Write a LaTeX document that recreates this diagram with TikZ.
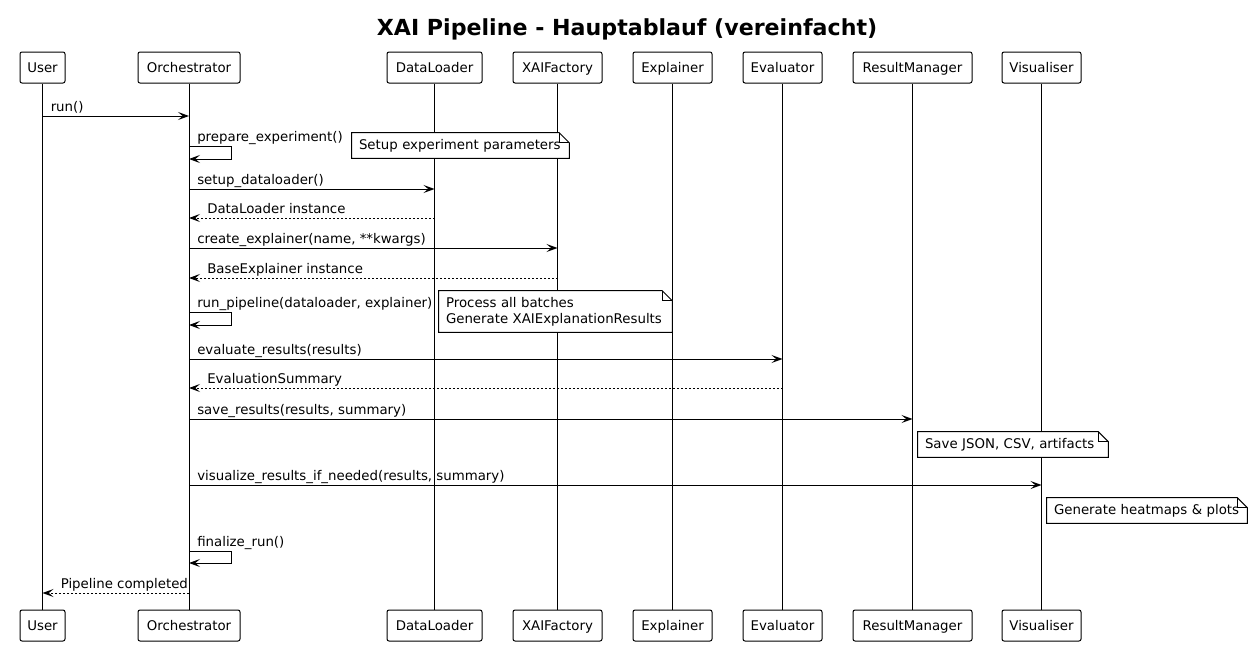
\documentclass[tikz,border=0pt]{standalone}
\usepackage{fontspec}
\setmainfont{DejaVu Sans}
\usetikzlibrary{arrows.meta,calc}
\pgfdeclarelayer{bg}
\pgfdeclarelayer{lines}
\pgfdeclarelayer{notes}
\pgfsetlayers{bg,lines,notes,main}
\newcommand\notefold[1]{%
  \begin{pgfonlayer}{notes}
    \draw[notefill] (#1.north west) -- ($(#1.north east)+(-10,0)$) -- ($(#1.north east)+(0,10)$) -- (#1.south east) -- (#1.south west) -- cycle;
    \draw[line width=0.75pt] ($(#1.north east)+(-10,0)$) |- ($(#1.north east)+(0,10)$);
  \end{pgfonlayer}}
\begin{document}
\begin{tikzpicture}[x=0.75pt,y=-0.75pt,
  every node/.style={font=\fontsize{10pt}{12pt}\selectfont},
  part/.style={draw,line width=0.75pt,rounded corners=1.5pt,fill=white,inner sep=0pt,minimum height=23.25pt,text height=0.9em,text depth=0.1em},
  life/.style={line width=0.75pt},
  msg/.style={line width=0.75pt,-{Stealth[length=8.25pt,width=6pt,inset=3.5pt]}},
  ret/.style={msg,dash pattern=on 1.5pt off 1.5pt},
  lbl/.style={anchor=base west,inner sep=0pt},
  notebox/.style={inner xsep=5.25pt,inner ysep=0pt,align=left,minimum height=18.75pt},
  notefill/.style={draw,line width=0.75pt,fill=white}
]
\begin{pgfonlayer}{bg}
\fill[white] (0,0) rectangle (1252,646);
\end{pgfonlayer}
\useasboundingbox (0,0) rectangle (1252,646);

\node[font=\fontsize{16.6pt}{20pt}\selectfont\bfseries] (title) at (627,29) {XAI Pipeline - Hauptablauf (vereinfacht)};

% participants (top)
\node[part,minimum width=33.75pt] (userT) at (42.5,67.5) {User};
\node[part,minimum width=76.5pt] (orchT) at (189,67.5) {Orchestrator};
\node[part,minimum width=71.25pt] (dlT) at (434.5,67.5) {DataLoader};
\node[part,minimum width=66.75pt] (facT) at (557.5,67.5) {XAIFactory};
\node[part,minimum width=59.25pt] (explT) at (672.5,67.5) {Explainer};
\node[part,minimum width=59.25pt] (evalT) at (782.5,67.5) {Evaluator};
\node[part,minimum width=89.25pt] (resT) at (912.5,67.5) {ResultManager};
\node[part,minimum width=59.25pt] (visT) at (1041.5,67.5) {Visualiser};
% participants (bottom)
\node[part,minimum width=33.75pt] (userB) at (42.5,625.5) {User};
\node[part,minimum width=76.5pt] (orchB) at (189,625.5) {Orchestrator};
\node[part,minimum width=71.25pt] (dlB) at (434.5,625.5) {DataLoader};
\node[part,minimum width=66.75pt] (facB) at (557.5,625.5) {XAIFactory};
\node[part,minimum width=59.25pt] (explB) at (672.5,625.5) {Explainer};
\node[part,minimum width=59.25pt] (evalB) at (782.5,625.5) {Evaluator};
\node[part,minimum width=89.25pt] (resB) at (912.5,625.5) {ResultManager};
\node[part,minimum width=59.25pt] (visB) at (1041.5,625.5) {Visualiser};

\begin{pgfonlayer}{lines}
  \foreach \p in {user,orch,dl,fac,expl,eval,res,vis}
    \draw[life] (\p T.south) -- (\p B.north);
\end{pgfonlayer}

% message rows
\coordinate (y1) at (0,116);
\coordinate (y2a) at (0,146);
\coordinate (y2b) at (0,159);
\coordinate (y3) at (0,189);
\coordinate (y4) at (0,218);
\coordinate (y5) at (0,248);
\coordinate (y6) at (0,278);
\coordinate (y7a) at (0,312);
\coordinate (y7b) at (0,325);
\coordinate (y8) at (0,359);
\coordinate (y9) at (0,388);
\coordinate (y10) at (0,419);
\coordinate (y11) at (0,485);
\coordinate (y12a) at (0,551);
\coordinate (y12b) at (0,563);
\coordinate (y13) at (0,593);

% run()
\draw[msg] (userT.south |- y1) -- (orchT.south |- y1);
\node[lbl] (l1) at ($(userT.south |- y1)+(8,-5)$) {run()};
% prepare_experiment()
\draw[msg] (orchT.south |- y2a) -- ++(42,0) |- (orchT.south |- y2b);
\node[lbl] (l2) at ($(orchT.south |- y2a)+(8,-5)$) {prepare\_experiment()};
\node[notebox,text width=152.25pt] (n1) at (460.5,145.5) {Setup experiment parameters};
\notefold{n1}
% setup_dataloader()
\draw[msg] (orchT.south |- y3) -- (dlT.south |- y3);
\node[lbl] (l3) at ($(orchT.south |- y3)+(8,-5)$) {setup\_dataloader()};
\draw[ret] (dlT.south |- y4) -- (orchT.south |- y4);
\node[lbl] (l4) at ($(orchT.south |- y4)+(18,-5)$) {DataLoader instance};
% create_explainer
\draw[msg] (orchT.south |- y5) -- (facT.south |- y5);
\node[lbl] (l5) at ($(orchT.south |- y5)+(8,-5)$) {create\_explainer(name, **kwargs)};
\draw[ret] (facT.south |- y6) -- (orchT.south |- y6);
\node[lbl] (l6) at ($(orchT.south |- y6)+(18,-5)$) {BaseExplainer instance};
% run_pipeline
\draw[msg] (orchT.south |- y7a) -- ++(42,0) |- (orchT.south |- y7b);
\node[lbl] (l7) at ($(orchT.south |- y7a)+(8,-5)$) {run\_pipeline(dataloader, explainer)};
\node[notebox,text width=164.25pt,minimum height=30.75pt] (n2) at (555.5,311.5) {Process all batches\\Generate XAIExplanationResults};
\notefold{n2}
% evaluate
\draw[msg] (orchT.south |- y8) -- (evalT.south |- y8);
\node[lbl] (l8) at ($(orchT.south |- y8)+(8,-5)$) {evaluate\_results(results)};
\draw[ret] (evalT.south |- y9) -- (orchT.south |- y9);
\node[lbl] (l9) at ($(orchT.south |- y9)+(18,-5)$) {EvaluationSummary};
% save
\draw[msg] (orchT.south |- y10) -- (resT.south |- y10);
\node[lbl] (l10) at ($(orchT.south |- y10)+(8,-5)$) {save\_results(results, summary)};
\node[notebox,text width=132pt] (n3) at (1013,444.5) {Save JSON, CSV, artifacts};
\notefold{n3}
% visualize
\draw[msg] (orchT.south |- y11) -- (visT.south |- y11);
\node[lbl] (l11) at ($(orchT.south |- y11)+(8,-5)$) {visualize\_results\_if\_needed(results, summary)};
\node[notebox,text width=139.5pt] (n4) at (1147,510.5) {Generate heatmaps \& plots};
\notefold{n4}
% finalize
\draw[msg] (orchT.south |- y12a) -- ++(42,0) |- (orchT.south |- y12b);
\node[lbl] (l12) at ($(orchT.south |- y12a)+(8,-5)$) {finalize\_run()};
% return to user
\draw[ret] (orchT.south |- y13) -- (userT.south |- y13);
\node[lbl] (l13) at ($(userT.south |- y13)+(18,-5)$) {Pipeline completed};
\end{tikzpicture}
\end{document}
